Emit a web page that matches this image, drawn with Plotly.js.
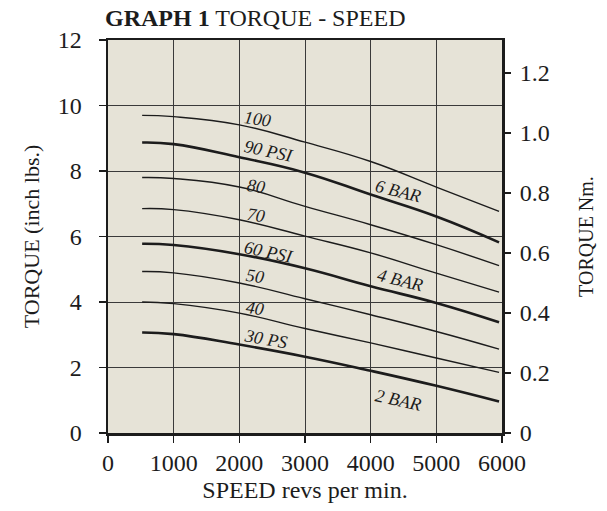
<!DOCTYPE html>
<html>
<head>
<meta charset="utf-8">
<script src="https://cdn.plot.ly/plotly-3.0.1.min.js"></script>
<style>html,body{margin:0;padding:0;background:#fff;}#chart{width:607px;height:511px;}</style>
</head>
<body>
<div id="chart"></div>
<script>
// Speed (rpm) sample points
var rpm = [520, 1000, 2000, 3000, 4000, 5000, 5955];
// Torque (inch lbs.) per supply pressure
var t100 = [9.70, 9.66, 9.41, 8.88, 8.29, 7.51, 6.77];
var t90  = [8.87, 8.82, 8.42, 7.95, 7.28, 6.61, 5.82];
var t80  = [7.80, 7.77, 7.51, 6.92, 6.36, 5.75, 5.11];
var t70  = [6.85, 6.82, 6.51, 6.01, 5.50, 4.88, 4.30];
var t60  = [5.78, 5.74, 5.46, 5.03, 4.48, 3.97, 3.38];
var t50  = [4.93, 4.89, 4.58, 4.10, 3.61, 3.10, 2.56];
var t40  = [4.00, 3.95, 3.66, 3.19, 2.75, 2.29, 1.85];
var t30  = [3.07, 3.02, 2.70, 2.33, 1.90, 1.44, 0.96];

var seriesNames = ['100', '90 PSI', '80', '70', '60 PSI', '50', '40', '30 PSI'];
var seriesVals = [t100, t90, t80, t70, t60, t50, t40, t30];
var thick = [false, true, false, false, true, false, false, true];

var xTicks = [0, 1000, 2000, 3000, 4000, 5000, 6000];
var yTicks = [0, 2, 4, 6, 8, 10, 12];
var nmTicks = [0, 0.2, 0.4, 0.6, 0.8, 1.0, 1.2];
var nmTickText = ['0', '0.2', '0.4', '0.6', '0.8', '1.0', '1.2'];

var curveLabels = ['100', '90 PSI', '80', '70', '60 PSI', '50', '40', '30 PS', '6 BAR', '4 BAR', '2 BAR'];

var FONT = '"Liberation Serif", "Times New Roman", serif';
var INK = '#1c1c1c';

var traces = seriesVals.map(function (v, i) {
  return {
    x: rpm, y: v, name: seriesNames[i], type: 'scatter', mode: 'lines',
    line: {color: INK, width: thick[i] ? 2.6 : 1.4, shape: 'spline', smoothing: 1.3},
    hoverinfo: 'skip', showlegend: false
  };
});
// invisible trace to activate right axis
traces.push({x: [0], y: [0], yaxis: 'y2', mode: 'markers', marker: {opacity: 0}, showlegend: false, hoverinfo: 'skip'});

// label placement (data coords) and rotations
var labelPos = [
  [2283, 9.60, 8], [2449, 8.62, 12], [2253, 7.55, 8], [2253, 6.67, 8],
  [2449, 5.54, 12], [2238, 4.80, 8], [2238, 3.83, 8], [2405, 2.88, 10],
  [4418, 7.40, 14], [4448, 4.68, 14], [4418, 1.01, 12]
];
var annotations = curveLabels.map(function (t, i) {
  return {
    x: labelPos[i][0], y: labelPos[i][1], xref: 'x', yref: 'y',
    text: '<i>' + t + '</i>', showarrow: false, textangle: labelPos[i][2],
    font: {family: FONT, size: 18, color: INK}
  };
});

var axisCommon = {
  showline: true, linecolor: INK, linewidth: 2.5, mirror: true,
  ticks: 'outside', ticklen: 7, tickwidth: 1.5, tickcolor: INK,
  gridcolor: '#3a3a3a', gridwidth: 1, zeroline: false,
  tickfont: {family: FONT, size: 24, color: INK}
};

var layout = {
  width: 607, height: 511,
  margin: {l: 108, r: 105, t: 40, b: 78},
  paper_bgcolor: '#ffffff', plot_bgcolor: '#e6e3d7',
  title: {
    text: '<b>GRAPH 1</b> TORQUE - SPEED', xref: 'container', x: 105 / 607, xanchor: 'left',
    yref: 'container', y: 1 - 18 / 511, yanchor: 'middle',
    font: {family: FONT, size: 24, color: INK}
  },
  xaxis: Object.assign({}, axisCommon, {
    range: [0, 6000], tickvals: xTicks, ticktext: xTicks.map(String),
    title: {text: 'SPEED revs per min.', font: {family: FONT, size: 24, color: INK}, standoff: 6}
  }),
  yaxis: Object.assign({}, axisCommon, {
    range: [0, 12], tickvals: yTicks, ticktext: yTicks.map(String),
    ticklabelstandoff: 12,
    title: {text: 'TORQUE (inch lbs.)', font: {family: FONT, size: 22, color: INK}, standoff: 12}
  }),
  yaxis2: {
    overlaying: 'y', side: 'right', range: [0, 1.31],
    tickvals: nmTicks, ticktext: nmTickText, showgrid: false, zeroline: false,
    showline: false, ticks: 'outside', ticklen: 8, tickwidth: 1.5, tickcolor: INK,
    tickfont: {family: FONT, size: 24, color: INK}, ticklabelstandoff: 4,
    title: {text: 'TORQUE Nm.', font: {family: FONT, size: 20, color: INK}, standoff: 30}
  },
  annotations: annotations
};

Plotly.newPlot('chart', traces, layout, {displayModeBar: false, staticPlot: true});
</script>
</body>
</html>
